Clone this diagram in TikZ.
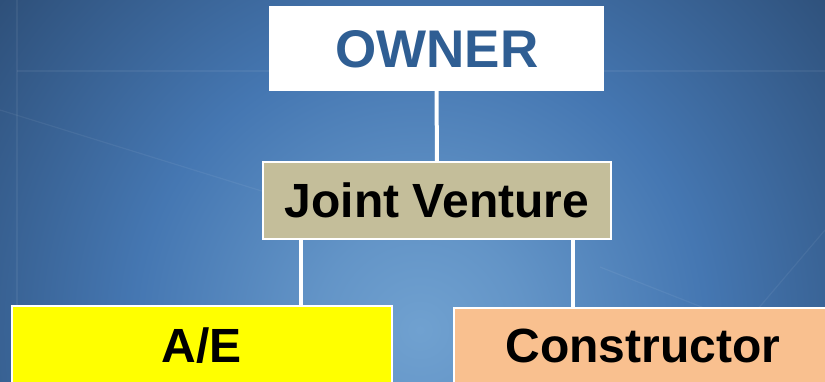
\documentclass[tikz,border=0pt]{standalone}
\usepackage{fontspec}
\setmainfont{Liberation Sans}
\definecolor{bgC}{HTML}{70A1D0}
\definecolor{bgM}{HTML}{4577B2}
\definecolor{bgO}{HTML}{2D4E77}
\definecolor{ownertext}{HTML}{2F5E93}
\definecolor{jvfill}{HTML}{C4BE9A}
\definecolor{aefill}{HTML}{FFFF00}
\definecolor{confill}{HTML}{F9C08F}
\pgfdeclareradialshading{bgshade}{\pgfpoint{0bp}{0bp}}{color(0bp)=(bgC); color(4bp)=(bgC!70!bgM); color(11bp)=(bgM); color(21bp)=(bgO); color(50bp)=(bgO)}
\tikzset{
  box/.style={draw=white, line width=2pt, anchor=north west, inner sep=0pt, outer sep=0pt},
  lbl/.style={font=\bfseries, inner sep=0pt, anchor=base},
  conn/.style={draw=white, line width=4pt},
  faint/.style={draw=white, opacity=0.06, line width=1.2pt}
}
\begin{document}
\begin{tikzpicture}[x=1pt,y=-1pt]
\useasboundingbox (0,0) rectangle (825,382);
\begin{scope}
\clip (0,0) rectangle (825,382);
\shade[shading=bgshade] (420,330) circle (650);
\draw[faint] (17,71) -- (825,71);
\draw[faint] (17,0) -- (17,382);
\draw[faint] (0,110) -- (420,240);
\draw[faint] (600,267) -- (760,330);
\draw[faint] (740,330) -- (825,230);
% boxes
\node[box, fill=white, minimum width=333pt, minimum height=83pt] (owner) at (270,7) {};
\node[box, fill=jvfill, minimum width=348pt, minimum height=77pt] (jv) at (263,162) {};
\node[box, fill=aefill, minimum width=380pt, minimum height=100pt] (ae) at (12,306) {};
\node[box, fill=confill, minimum width=400pt, minimum height=100pt] (con) at (454,308) {};
% connectors
\coordinate (jvl) at (301,239);
\coordinate (jvr) at (573,239);
\draw[conn] (owner.south) -- (jv.north);
\draw[conn] (jvl) -- (jvl |- ae.north);
\draw[conn] (jvr) -- (jvr |- con.north);
% labels
\node[lbl, text=ownertext, font=\fontsize{53}{53}\selectfont\bfseries] (ownerlbl) at (437,68) {OWNER};
\node[lbl, font=\fontsize{48}{48}\selectfont\bfseries] (jvlbl) at (437,218) {Joint Venture};
\node[lbl, font=\fontsize{48}{48}\selectfont\bfseries] (aelbl) at (202,362) {A/E};
\node[lbl, font=\fontsize{48}{48}\selectfont\bfseries] (conlbl) at (643,362) {Constructor};
\end{scope}
\end{tikzpicture}
\end{document}
